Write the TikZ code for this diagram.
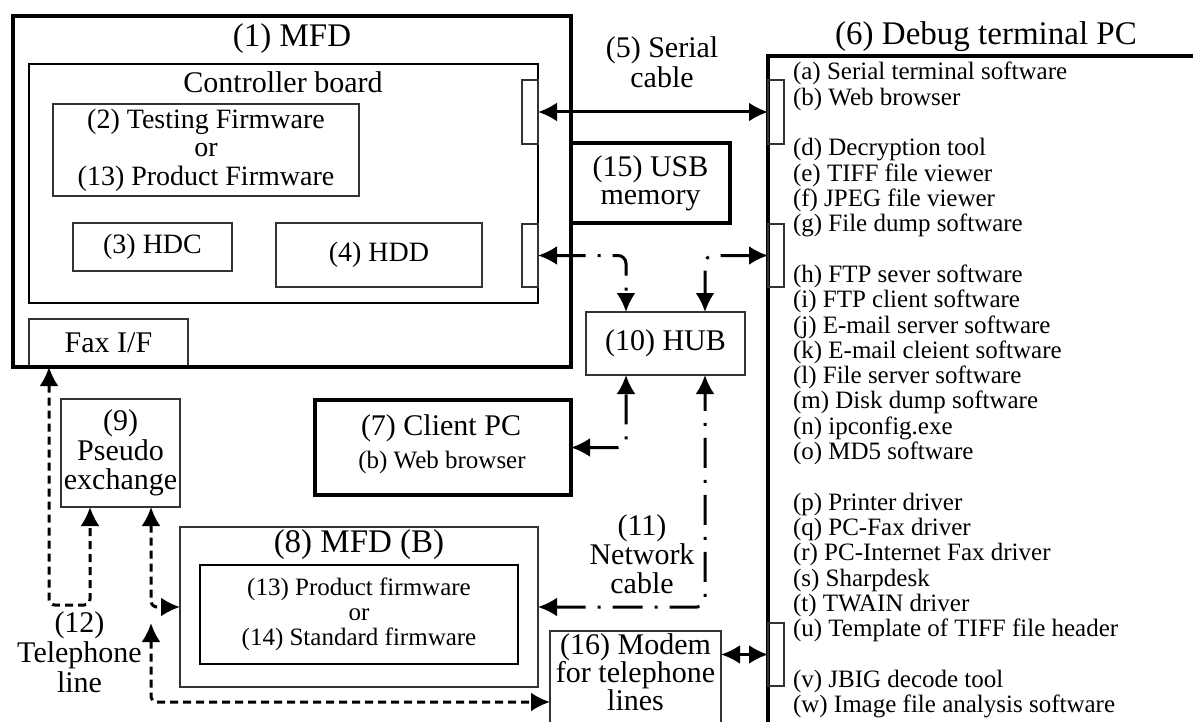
\documentclass[tikz,border=0pt]{standalone}
\usepackage{fontspec}
\setmainfont{Liberation Serif}
\usetikzlibrary{arrows.meta,calc}
\begin{document}
\begin{tikzpicture}[x=1pt,y=-1pt,
  >={Latex[length=19pt,width=19pt]},
  thickbox/.style={draw, line width=3.5pt, inner sep=0pt, outer sep=0pt, align=center},
  medbox/.style={draw, line width=2pt, inner sep=0pt, outer sep=0pt, align=center},
  thinbox/.style={draw=black!80, line width=1.2pt, inner sep=0pt, outer sep=0pt, align=center},
  portbox/.style={thinbox, minimum width=16pt, minimum height=64pt},
  txt/.style={inner sep=0pt, outer sep=0pt, align=center},
  ftitle/.style={font=\fontsize{33}{36}\selectfont},
  flabel/.style={font=\fontsize{30}{30}\selectfont},
  fbox/.style={font=\fontsize{28}{28.5}\selectfont},
  flist/.style={font=\fontsize{25}{25}\selectfont},
  solidarrow/.style={line width=3pt},
  net/.style={line width=3pt, dash pattern=on 30pt off 12pt on 3pt off 12pt},
  tel/.style={line width=3pt, dash pattern=on 8pt off 5pt},
]
\useasboundingbox (0,0) rectangle (1193,722);

% (1) MFD
\node[thickbox, minimum width=558pt, minimum height=351pt] (mfd) at (292,191.5) {};
\node[txt, ftitle, anchor=base] (mfdT) at (292,47) {(1) MFD};
\node[medbox, minimum width=509pt, minimum height=239pt] (ctrl) at (283.5,183.5) {};
\node[txt, flabel, anchor=base] (ctrlT) at (283,93) {Controller board};
\node[thinbox, fbox, minimum width=306pt, minimum height=92pt] (fw) at (206,150)
  {(2) Testing Firmware\\or\\(13) Product Firmware};
\node[thinbox, fbox, minimum width=159pt, minimum height=48pt] (hdc) at (152.5,247) {(3) HDC};
\node[thinbox, fbox, minimum width=206pt, minimum height=64pt] (hdd) at (379,255) {(4) HDD};
\node[portbox] (mpA) at (530,112) {};
\node[portbox, minimum height=63pt] (mpB) at (530,255.5) {};
\node[thinbox, flabel, minimum width=159pt, minimum height=48pt] (fax) at (108.5,343) {Fax I/F};
\draw[line width=3.5pt] (13,367) -- (571,367);

% (15) USB memory
\node[thickbox, font=\fontsize{30}{28}\selectfont, minimum width=159pt, minimum height=80pt] (usb) at (650.5,183) {(15) USB\\memory};

% (6) Debug terminal PC
\coordinate (pcC) at (768,56);
\draw[line width=3.5pt] (1200,56) -- (pcC) -- (768,730);
\node[txt, ftitle, anchor=base] (pcT) at (986,45) {(6) Debug terminal PC};
\node[portbox] (dpA) at (776,112) {};
\node[portbox, minimum height=63pt] (dpB) at (776,255.5) {};
\node[portbox, minimum height=63pt] (dpC) at (776,654.5) {};
\foreach \n/\t in {1/{(a) Serial terminal software}, 2/{(b) Web browser},
  4/{(d) Decryption tool}, 5/{(e) TIFF file viewer}, 6/{(f) JPEG file viewer},
  7/{(g) File dump software}, 9/{(h) FTP sever software}, 10/{(i) FTP client software},
  11/{(j) E-mail server software}, 12/{(k) E-mail cleient software},
  13/{(l) File server software}, 14/{(m) Disk dump software}, 15/{(n) ipconfig.exe},
  16/{(o) MD5 software}, 18/{(p) Printer driver}, 19/{(q) PC-Fax driver},
  20/{(r) PC-Internet Fax driver}, 21/{(s) Sharpdesk}, 22/{(t) TWAIN driver},
  23/{(u) Template of TIFF file header}, 25/{(v) JBIG decode tool},
  26/{(w) Image file analysis software}}
  \node[txt, flist, anchor=base west] (sw\n) at ({793},{80+(\n-1)*25.3}) {\t};

% (5) Serial cable
\node[txt, flabel] (serT) at (662,62) {(5) Serial\\cable};
\draw[solidarrow,<->] (mpA.east) -- (dpA.west);

% (10) HUB
\node[thinbox, flabel, minimum width=159pt, minimum height=63pt] (hub) at (665.5,343.5) {(10) HUB};

% (7) Client PC
\node[thickbox, minimum width=256pt, minimum height=95pt] (client) at (443,447.5) {};
\node[txt, flabel, anchor=base] (clientT) at (441,435) {(7) Client PC};
\node[txt, flist, anchor=base] (clientS) at (442,468) {(b) Web browser};

% (8) MFD (B)
\node[thinbox, minimum width=358pt, minimum height=160pt] (mfdb) at (359,607) {};
\node[txt, ftitle, anchor=base] (mfdbT) at (359,552) {(8) MFD (B)};
\node[medbox, flist, minimum width=318pt, minimum height=99pt] (fw2) at (359,614.5)
  {(13) Product firmware\\or\\(14) Standard firmware};

% (9) Pseudo exchange
\node[thinbox, font=\fontsize{30}{29.5}\selectfont, minimum width=119pt, minimum height=108pt] (pseudo) at (120.5,453) {(9)\\Pseudo\\exchange};

% (12) Telephone line
\node[txt, flabel] (telT) at (79.5,652) {(12)\\Telephone\\line};

% (11) Network cable
\node[txt, font=\fontsize{30}{29}\selectfont] (netT) at (642,554) {(11)\\Network\\cable};

% (16) Modem
\node[thinbox, minimum width=171pt, minimum height=110pt] (modem) at (635.5,686) {};
\node[txt, font=\fontsize{30}{27.5}\selectfont] (modemT) at (635.5,672) {(16) Modem\\for telephone\\lines};

% network cables
\draw[net,<->,rounded corners=8pt] (mpB.east) -| ($(hub.north west)+(40,0)$);
\draw[net,<->,rounded corners=8pt] (dpB.west) -| ($(hub.north west)+(119,0)$);
\draw[net,<->,rounded corners=8pt] (client.east) -| ($(hub.south west)+(40,0)$);
\draw[net,<->,rounded corners=8pt] (mfdb.east) -| ($(hub.south west)+(119,0)$);

% telephone lines
\draw[tel,<->,rounded corners=6pt] ($(fax.south west)+(20,0)$) -- ++(0,238) -| ($(pseudo.south west)+(29,0)$);
\draw[tel,<->,rounded corners=6pt] ($(pseudo.south west)+(90,0)$) |- (mfdb.west);
\coordinate (tj) at (151,623);
\draw[tel,<->,rounded corners=6pt] (tj) |- ($(modem.north west)+(0,71)$);

% modem to debug PC
\draw[solidarrow,<->] (modem.east |- dpC.west) -- (dpC.west);
\end{tikzpicture}
\end{document}
